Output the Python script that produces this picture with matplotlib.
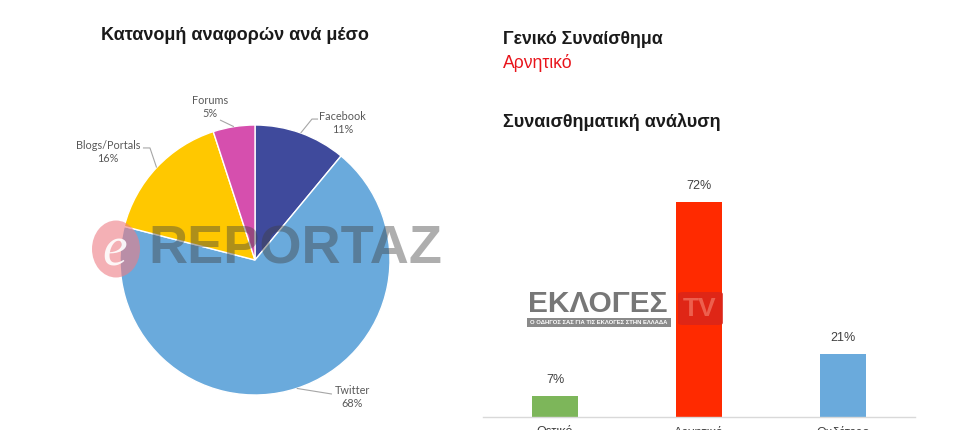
import matplotlib
matplotlib.use("Agg")
import matplotlib.pyplot as plt
import numpy as np
from matplotlib.patches import Ellipse, Rectangle, FancyBboxPatch

# ---- data -------------------------------------------------------------
media = ["Facebook", "Twitter", "Blogs/Portals", "Forums"]
media_share = [11, 68, 16, 5]

sentiments = ["Θετικό", "Αρνητικό", "Ουδέτερο"]
sentiment_share = [7, 72, 21]

overall_sentiment = "Αρνητικό"

# ---- styling ----------------------------------------------------------
media_colors = ["#3F4A9C", "#6AAADC", "#FFC800", "#D64FAE"]
sentiment_colors = ["#7DB65A", "#FF2A00", "#6AAADC"]
label_grey = "#595959"
W, H = 960, 430

plt.rcParams["font.family"] = ["Liberation Sans", "DejaVu Sans"]
fig = plt.figure(figsize=(W / 100, H / 100), dpi=100)
fig.patch.set_facecolor("white")


def px_box(x0, y0, w, h):
    """axes rectangle given in pixels from the top-left corner"""
    return [x0 / W, (H - y0 - h) / H, w / W, h / H]


# ---- pie: distribution per medium -------------------------------------
R_PX = 135
cx, cy = 255, 260
axp = fig.add_axes(px_box(cx - 150, cy - 150, 300, 300))
wedges, _ = axp.pie(media_share, colors=media_colors, startangle=90,
                    counterclock=False, radius=1.0,
                    wedgeprops=dict(edgecolor="white", linewidth=1.0))
lim = 150 / R_PX
axp.set_xlim(-lim, lim)
axp.set_ylim(-lim, lim)
axp.set_aspect("equal")
axp.axis("off")

# label centres and leader-line elbow/end points (axes data units)
label_layout = {
    "Facebook":      dict(pos=(0.648, 1.015), pts=[(0.422, 1.044), (0.467, 1.044)]),
    "Twitter":       dict(pos=(0.719, -1.015), pts=[(0.570, -0.993)]),
    "Blogs/Portals": dict(pos=(-1.089, 0.800), pts=[(-0.778, 0.830), (-0.830, 0.830)]),
    "Forums":        dict(pos=(-0.333, 1.133), pts=[(-0.259, 1.037)]),
}
for w, name, val in zip(wedges, media, media_share):
    mid = np.deg2rad((w.theta1 + w.theta2) / 2)
    edge = (np.cos(mid), np.sin(mid))
    lay = label_layout[name]
    xs = [edge[0]] + [p[0] for p in lay["pts"]]
    ys = [edge[1]] + [p[1] for p in lay["pts"]]
    axp.plot(xs, ys, color="#A6A6A6", lw=0.8, solid_capstyle="butt")
    axp.text(lay["pos"][0], lay["pos"][1], f"{name}\n{val}%", ha="center",
             va="center", fontsize=7.8, color=label_grey, family=["Lato", "DejaVu Sans"],
             linespacing=1.25)

fig.text(235 / W, 1 - 36 / H, "Κατανομή αναφορών ανά μέσο", ha="center",
         va="center", fontsize=13, fontweight="bold", color="#1a1a1a")

# ---- right side headers -----------------------------------------------
fig.text(503 / W, 1 - 39 / H, "Γενικό Συναίσθημα", ha="left", va="center",
         fontsize=12.8, fontweight="bold", color="#1a1a1a")
fig.text(503 / W, 1 - 63 / H, overall_sentiment, ha="left", va="center",
         fontsize=12.7, color="#E8141B")
fig.text(503 / W, 1 - 122 / H, "Συναισθηματική ανάλυση", ha="left",
         va="center", fontsize=13, fontweight="bold", color="#1a1a1a")

# ---- bar chart: sentiment analysis ------------------------------------
PX_PER_PCT = 2.98
base_y = 416.7
ymax = 80
axb = fig.add_axes(px_box(483, base_y - ymax * PX_PER_PCT, 432, ymax * PX_PER_PCT))
x = np.arange(len(sentiments))
axb.bar(x, sentiment_share, width=0.32, color=sentiment_colors, zorder=2)
for xi, v in zip(x, sentiment_share):
    axb.annotate(f"{v}%", (xi, v), xytext=(0, 7), textcoords="offset points",
                 ha="center", va="bottom", fontsize=9, color="#404040")
axb.set_xlim(-0.5, 2.5)
axb.set_ylim(0, ymax)
axb.set_xticks(x)
axb.set_xticklabels(sentiments, fontsize=9, color="#404040")
axb.tick_params(axis="x", length=0, pad=6.5)
axb.set_yticks([])
for s in ["top", "right", "left"]:
    axb.spines[s].set_visible(False)
axb.spines["bottom"].set_color("#D9D9D9")
axb.spines["bottom"].set_linewidth(1.0)
axb.patch.set_alpha(0)

# ---- watermarks ---------------------------------------------------------
fig.patches.append(Ellipse((116 / W, 1 - 249 / H), 48 / W, 57 / H,
                           transform=fig.transFigure, facecolor="#EE7C84",
                           alpha=0.6, edgecolor="none", zorder=5))
fig.text(115 / W, 1 - 252 / H, "e", ha="center", va="center", fontsize=40,
         style="italic", family=["Liberation Serif"], color="white",
         alpha=0.9, zorder=6)
fig.text(295 / W, 1 - 250 / H, "REPORTAZ", ha="center", va="center",
         fontsize=39, fontweight="bold", color="#404040", alpha=0.42, zorder=6)

fig.text(598 / W, 1 - 303.5 / H, "ΕΚΛΟΓΕΣ", ha="center", va="center",
         fontsize=21.5, fontweight="bold", color="#777777", zorder=6)
fig.patches.append(Rectangle((527 / W, 1 - 327 / H), 144 / W, 9 / H,
                             transform=fig.transFigure, facecolor="#8A8A8A",
                             edgecolor="none", zorder=5))
fig.text(599 / W, 1 - 322.5 / H, "Ο ΟΔΗΓΟΣ ΣΑΣ ΓΙΑ ΤΙΣ ΕΚΛΟΓΕΣ ΣΤΗΝ ΕΛΛΑΔΑ",
         ha="center", va="center", fontsize=4.2, fontweight="bold",
         color="white", zorder=6)
fig.patches.append(FancyBboxPatch((678 / W, 1 - 325 / H), 45 / W, 33 / H,
                                  boxstyle="round,pad=0,rounding_size=0.005",
                                  transform=fig.transFigure, facecolor="#D8261C",
                                  alpha=0.8, edgecolor="none", zorder=5))
fig.text(700 / W, 1 - 308.5 / H, "TV", ha="center", va="center", fontsize=19,
         fontweight="bold", color="#F06A58", alpha=0.85, zorder=6)

fig.savefig("out.png", dpi=100, facecolor="white")
